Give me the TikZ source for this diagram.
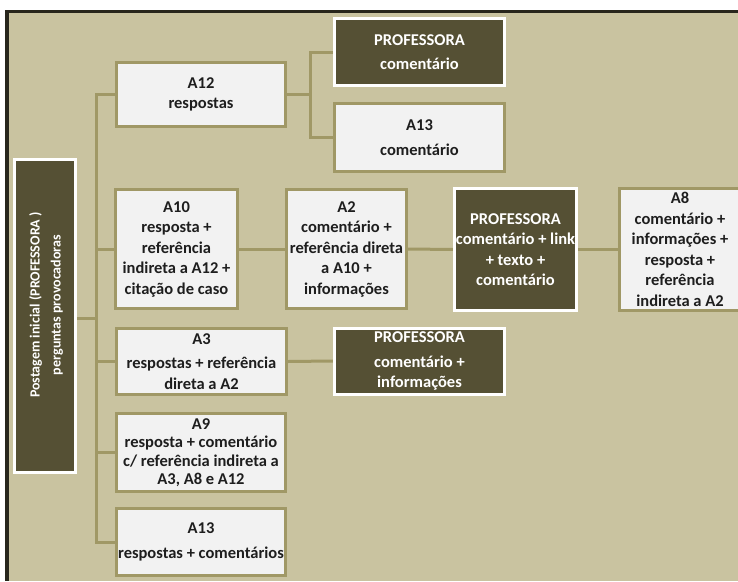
\documentclass[tikz,border=0pt]{standalone}
\usepackage{fontspec}
\setmainfont{Carlito}
\usetikzlibrary{backgrounds}
\definecolor{panel}{RGB}{201,195,160}
\definecolor{frameline}{RGB}{40,38,28}
\definecolor{olive}{RGB}{160,152,102}
\definecolor{darkfill}{RGB}{85,80,52}
\definecolor{lightfill}{RGB}{242,242,242}
\definecolor{ink}{RGB}{30,30,30}
\tikzset{
  boxfont/.style={font=\bfseries\fontsize{16.5}{20.5}\selectfont},
  lightbox/.style={rectangle, draw=olive, line width=3pt, fill=lightfill,
    text=ink, boxfont, align=center, inner sep=0pt},
  darkbox/.style={rectangle, draw=white, line width=3pt, fill=darkfill,
    text=white, boxfont, align=center, inner sep=0pt},
  link/.style={draw=olive, line width=3pt},
}
\begin{document}
\begin{tikzpicture}[x=1pt, y=-1pt]
\useasboundingbox (0,0) rectangle (738,581);
\clip (0,0) rectangle (738,581);

% root post
\node[darkbox, minimum width=61pt, minimum height=313pt] (root) at (45,316) {};
\node[text=white, font=\bfseries\fontsize{14}{21}\selectfont, align=center, rotate=90]
  (roottext) at (46,305) {Postagem inicial (PROFESSORA )\\perguntas provocadoras};

% first column
\node[lightbox, minimum width=169pt, minimum height=64pt] (a12) at (201,94.5)
  {A12\\respostas};
\node[lightbox, minimum width=122pt, minimum height=119pt] (a10) at (176.5,249)
  {A10\\resposta +\\referência\\indireta a A12 +\\citação de caso};
\node[lightbox, minimum width=170pt, minimum height=66pt] (a3) at (201.5,361.5)
  {A3\\[4pt]respostas + referência\\direta a A2};
\node[lightbox, minimum width=169pt, minimum height=78pt,
  font=\bfseries\fontsize{16.5}{18.5}\selectfont] (a9) at (201,452.5)
  {A9\\resposta + comentário\\c/ referência indireta a\\A3, A8 e A12};
\node[lightbox, minimum width=169pt, minimum height=67pt] (a13r) at (201,542)
  {A13\\[4pt]respostas + comentários};

% replies to A12
\node[darkbox, minimum width=170pt, minimum height=67pt] (prof1) at (419.5,52)
  {PROFESSORA\\[4pt]comentário};
\node[lightbox, minimum width=170pt, minimum height=68pt] (a13c) at (419.5,137.5)
  {A13\\[4pt]comentário};

% chain after A10
\node[lightbox, minimum width=120pt, minimum height=119pt] (a2) at (346.5,249)
  {A2\\comentário +\\referência direta\\a A10 +\\informações};
\node[darkbox, minimum width=122pt, minimum height=122pt] (prof2) at (515.5,249.5)
  {PROFESSORA\\comentário + link\\+ texto +\\comentário};
\node[lightbox, minimum width=121pt, minimum height=122pt] (a8) at (680,249.5)
  {A8\\comentário +\\informações +\\resposta +\\referência\\indireta a A2};

% reply to A3
\node[darkbox, minimum width=170pt, minimum height=66pt] (prof3) at (419.5,361)
  {PROFESSORA\\[4pt]comentário +\\informações};

% panel and connectors sit behind the boxes
\coordinate (trunk) at (96,0);
\coordinate (fork) at (310,0);
\coordinate (rootport) at (77,318);
\begin{pgfonlayer}{background}
\clip (0,0) rectangle (738,581);
\fill[frameline] (5,9.5) rectangle (738,581);
\fill[panel] (9,12.7) rectangle (738,581);
\draw[link] (rootport) -- (rootport -| trunk);
\draw[link] (a12.west) -| (trunk |- a13r.west) -- (a13r.west);
\draw[link] (a10.west) -- (a10.west -| trunk);
\draw[link] (a3.west) -- (a3.west -| trunk);
\draw[link] (a9.west) -- (a9.west -| trunk);
\draw[link] (a12.east) -- (a12.east -| fork);
\draw[link] (prof1.west) -| (fork |- a13c.west) -- (a13c.west);
\draw[link] (a10.east) -- (a2.west);
\draw[link] (a2.east) -- (prof2.west);
\draw[link] (prof2.east) -- (a8.west);
\draw[link] (a3.east) -- (prof3.west);
\end{pgfonlayer}
\end{tikzpicture}
\end{document}
